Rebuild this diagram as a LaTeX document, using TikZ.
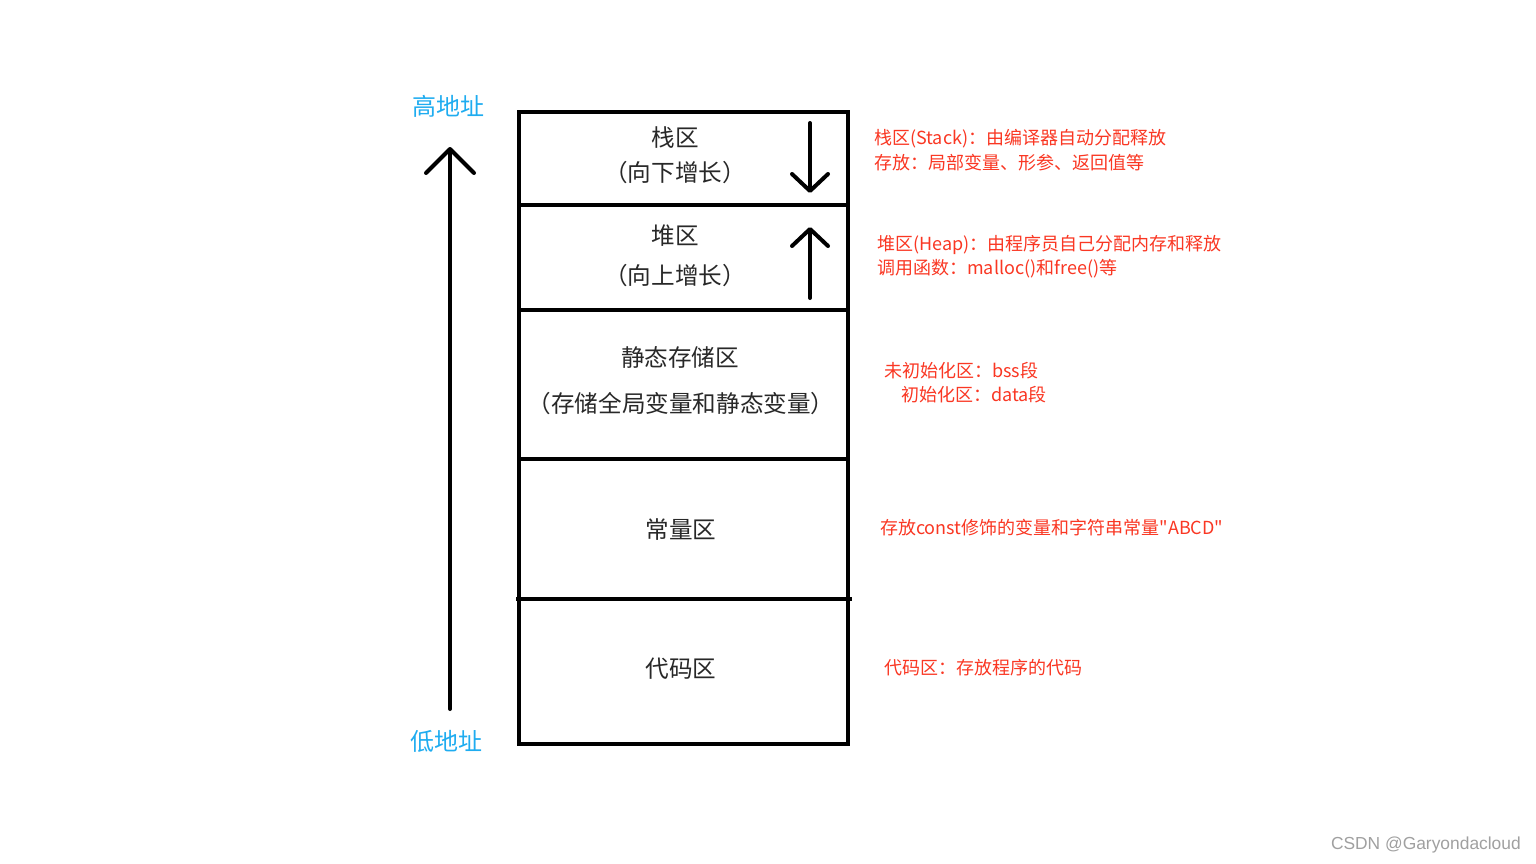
\documentclass[tikz,border=0pt]{standalone}
\usepackage{fontspec}
\setmainfont{Noto Sans CJK SC}
\newfontfamily\qfont{Noto Sans CJK SC}
\newfontfamily\wmfont{Liberation Sans}
\usetikzlibrary{arrows.meta}
\definecolor{redtxt}{RGB}{250,55,35}
\definecolor{bluetxt}{RGB}{30,172,240}
\definecolor{boxtxtc}{RGB}{40,40,40}
\definecolor{wmgray}{RGB}{160,160,160}
\tikzset{
  region/.style={draw=black, line width=4pt, minimum width=329pt, inner sep=0pt},
  boxtxt/.style={text=boxtxtc, font=\fontsize{23.6}{26}\selectfont, inner sep=0pt},
  note/.style={text=redtxt, font=\fontsize{18}{20}\selectfont, anchor=west, inner sep=0pt},
  addr/.style={text=bluetxt, font=\fontsize{24}{26}\selectfont, inner sep=0pt},
  arr/.style={line width=4pt, line cap=round, line join=round, -{Straight Barb[length=17pt,width=36pt,line cap=round,line join=round]}}
}
\begin{document}
\begin{tikzpicture}[x=1pt,y=-1pt]
\useasboundingbox (0,0) rectangle (1536,864);
\fill[white] (0,0) rectangle (1536,864);
% regions
\node[region, minimum height=93pt] (stack) at (683.5,158.5) {};
\node[region, minimum height=105pt] (heap) at (683.5,257.5) {};
\node[region, minimum height=149pt] (static) at (683.5,384.5) {};
\node[region, minimum height=140pt] (const) at (683.5,529) {};
\node[region, minimum height=145pt] (code) at (683.5,671.5) {};
\coordinate (divL) at (516,599);
\coordinate (divR) at (852,599);
\draw[line width=4pt] (divL) -- (divR);
% box texts
\node[boxtxt] (t1) at (675,138) {栈区};
\node[boxtxt] (t2) at (675,173) {（向下增长）};
\node[boxtxt] (t3) at (675,236) {堆区};
\node[boxtxt] (t4) at (675,276) {（向上增长）};
\node[boxtxt] (t5) at (680,357) {静态存储区};
\node[boxtxt] (t6) at (681,404) {（存储全局变量和静态变量）};
\node[boxtxt] (t7) at (681,530) {常量区};
\node[boxtxt] (t8) at (681,669) {代码区};
% growth arrows
\coordinate (sA) at (810,123);
\coordinate (sB) at (810,193);
\draw[arr] (sA) -- (sB);
\coordinate (hA) at (810,298);
\coordinate (hB) at (810,227);
\draw[arr] (hA) -- (hB);
% address arrow
\node[addr] (hi) at (448,106) {高地址};
\node[addr] (lo) at (446,741) {低地址};
\coordinate (aA) at (450,709);
\coordinate (aB) at (450,147);
\draw[arr, -{Straight Barb[length=24pt,width=48pt,line cap=round,line join=round]}] (aA) -- (aB);
% notes
\node[note] (n1) at (874,139) {栈区(Stack)：由编译器自动分配释放};
\node[note] (n2) at (874,163) {存放：局部变量、形参、返回值等};
\node[note] (n3) at (877,245) {堆区(Heap)：由程序员自己分配内存和释放};
\node[note] (n4) at (877,269) {调用函数：malloc()和free()等};
\node[note] (n5) at (884,371) {未初始化区：bss段};
\node[note] (n6) at (901,395) {初始化区：data段};
\node[note] (n7) at (880,528) {存放const修饰的变量和字符串常量{\qfont "}ABCD{\qfont "}};
\node[note] (n8) at (884,668) {代码区：存放程序的代码};
% watermark
\node[text=wmgray, font=\wmfont\fontsize{17.4}{19}\selectfont, anchor=east, inner sep=0pt] (wm) at (1521,845) {CSDN @Garyondacloud};
\end{tikzpicture}
\end{document}
